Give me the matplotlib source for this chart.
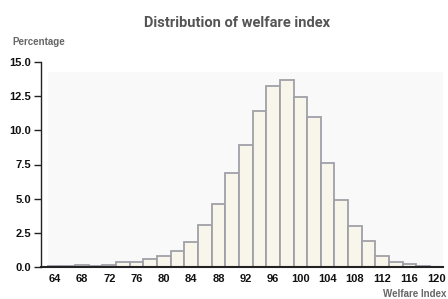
import matplotlib
matplotlib.use("Agg")
import matplotlib.pyplot as plt
from matplotlib.patches import Rectangle

# Data
bin_left = [63, 65, 67, 69, 71, 73, 75, 77, 79, 81, 83, 85, 87, 89, 91, 93, 95, 97,
            99, 101, 103, 105, 107, 109, 111, 113, 115, 117, 119]
percent = [0.05, 0.05, 0.12, 0.05, 0.15, 0.36, 0.36, 0.55, 0.8, 1.2, 1.8, 3.1, 4.6, 6.9,
           8.9, 11.45, 13.25, 13.65, 12.45, 11.0, 7.6, 4.9, 3.0, 1.9, 0.8, 0.4, 0.2, 0.07, 0.02]
bin_width = 2
x_ticks = [64, 68, 72, 76, 80, 84, 88, 92, 96, 100, 104, 108, 112, 116, 120]
y_ticks = [0.0, 2.5, 5.0, 7.5, 10.0, 12.5, 15.0]

W, H = 448, 299
fig = plt.figure(figsize=(W / 100, H / 100), dpi=100)
fig.patch.set_facecolor('white')

# light panel background
fig.add_artist(Rectangle((48 / W, 1 - 267 / H), (443 - 48) / W, (267 - 72) / H,
                         transform=fig.transFigure, facecolor='#f9f9f9',
                         edgecolor='none', zorder=0))

ax = fig.add_axes([41 / W, 1 - 267 / H, (443 - 41) / W, (267 - 62) / H])
ax.patch.set_alpha(0)
ax.bar(bin_left, percent, width=bin_width, align='edge', color='#f8f6ea',
       edgecolor='#a0a0a8', linewidth=1.3, zorder=2)

ax.set_xlim(62.0, 120.9)
ax.set_ylim(0, 15)
ax.set_xticks(x_ticks)
ax.set_xticklabels([str(t) for t in x_ticks])
ax.set_yticks(y_ticks)
ax.set_yticklabels([f"{t:.1f}" for t in y_ticks])

for s in ['top', 'right']:
    ax.spines[s].set_visible(False)
ax.spines['left'].set_linewidth(1.0)
ax.spines['left'].set_color('#222222')
ax.spines['bottom'].set_linewidth(1.5)
ax.spines['bottom'].set_color('#222222')

ax.tick_params(axis='x', length=0, pad=5)
ax.tick_params(axis='y', length=5, width=1.0, pad=2, color='#222222')
for lab in ax.get_xticklabels() + ax.get_yticklabels():
    lab.set_fontfamily('Liberation Sans')
    lab.set_fontweight('bold')
    lab.set_fontsize(8)
    lab.set_color('#111111')

fig.text(237 / W, 1 - 23 / H, 'Distribution of welfare index', ha='center', va='center',
         fontsize=10.5, fontweight='bold', color='#555555', family=['Roboto', 'DejaVu Sans'])
fig.text(12 / W, 1 - 42 / H, 'Percentage', ha='left', va='center',
         fontsize=7, fontweight='bold', color='#666666', family='Liberation Sans')
fig.text(446 / W, 1 - 294 / H, 'Welfare Index', ha='right', va='center',
         fontsize=7, fontweight='bold', color='#666666', family='Liberation Sans')

fig.savefig('out.png', dpi=100)
